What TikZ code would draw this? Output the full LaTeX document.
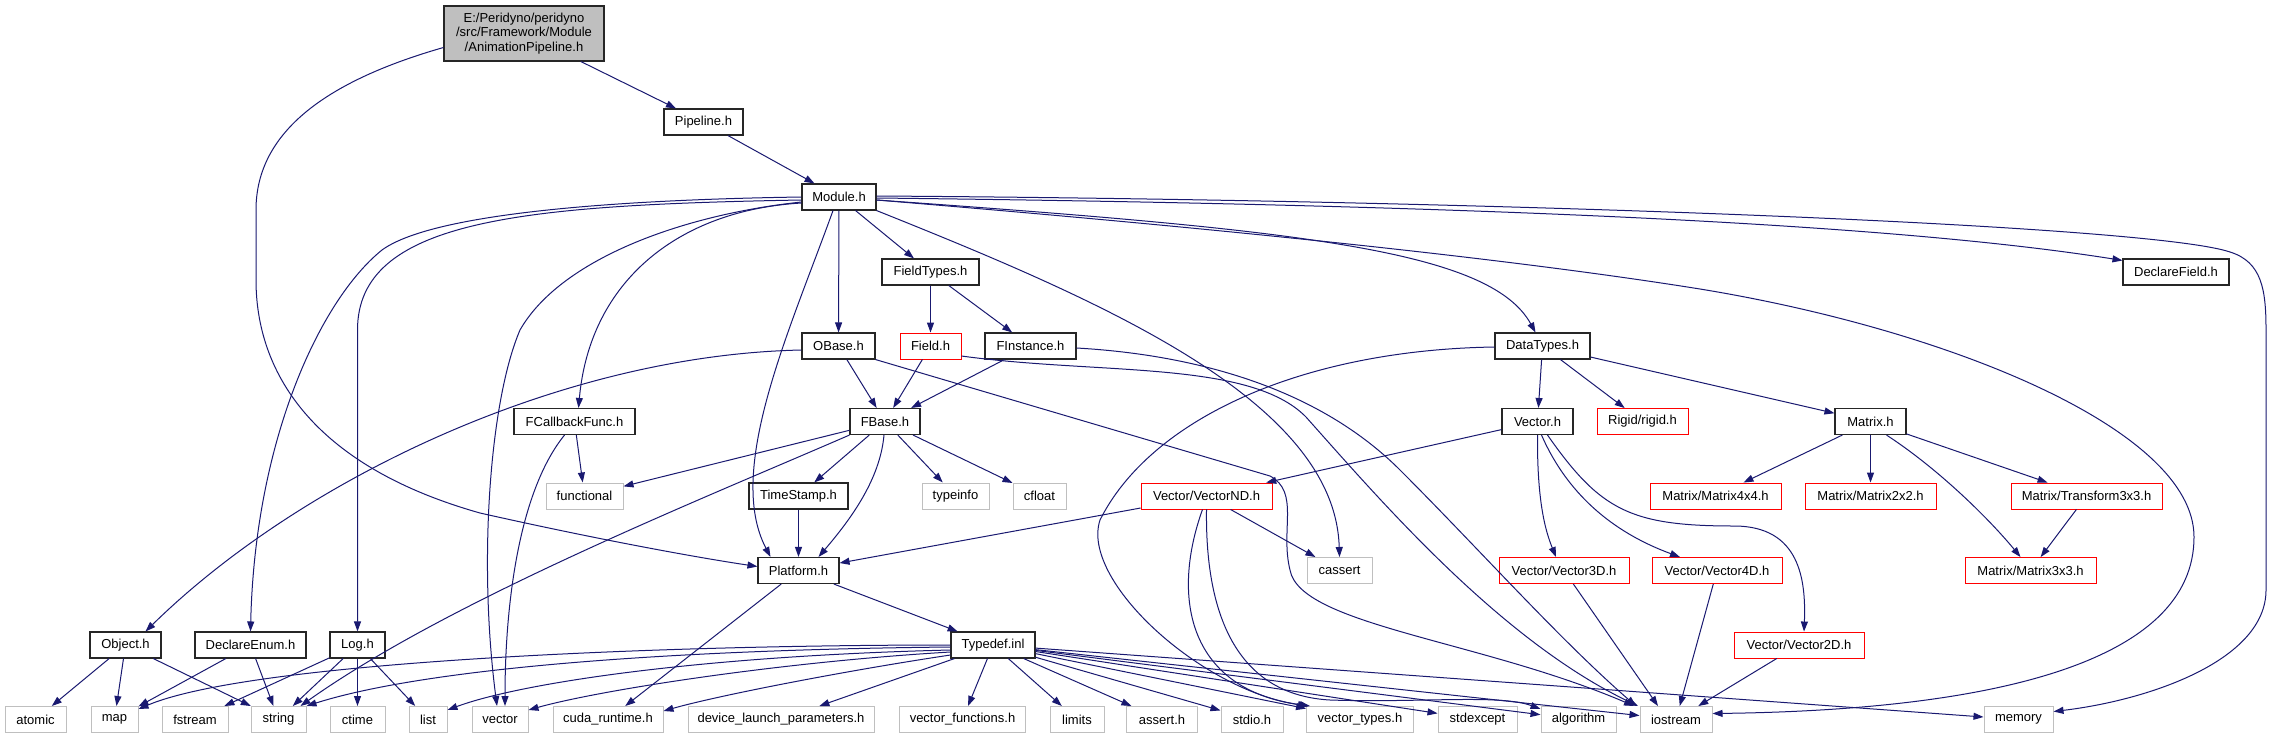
\documentclass[tikz,border=0pt]{standalone}
\usepackage{fontspec}
\setmainfont{Liberation Sans}
\usetikzlibrary{arrows.meta}
\definecolor{edgeblue}{HTML}{191970}
\definecolor{sysgray}{HTML}{BFBFBF}
\begin{document}
\begin{tikzpicture}[x=1pt,y=-1pt,
hdr/.style={draw=black!85, line width=1.1pt, fill=white, minimum height=26pt, inner sep=0pt, font=\fontsize{13}{14.5}\selectfont},
undoc/.style={hdr, draw=red, line width=0.9pt},
sys/.style={hdr, draw=sysgray, line width=1pt},
topfile/.style={hdr, fill=sysgray, minimum height=55pt, align=center},
inc/.style={draw=edgeblue, line width=1pt, -{Triangle[length=10pt,width=7pt]}},]
\useasboundingbox (0,0) rectangle (2274,739);

\node[topfile, minimum width=160pt] (anim) at (524,33.5) {E:/Peridyno/peridyno\\/src/Framework/Module\\/AnimationPipeline.h};
\node[hdr, minimum width=79pt] (pipeline) at (703.5,122) {Pipeline.h};
\node[hdr, minimum width=74pt] (module) at (839,197) {Module.h};
\node[hdr, minimum width=97pt] (fieldtypes) at (930.5,272) {FieldTypes.h};
\node[hdr, minimum width=106pt] (declarefield) at (2176,272) {DeclareField.h};
\node[hdr, minimum width=73pt] (obase) at (838.5,346) {OBase.h};
\node[undoc, minimum width=61pt] (field) at (930.5,346) {Field.h};
\node[hdr, minimum width=91pt] (finstance) at (1030.5,346) {FInstance.h};
\node[hdr, minimum width=95pt] (datatypes) at (1542.5,346) {DataTypes.h};
\node[hdr, minimum width=70pt] (fbase) at (885,421.5) {FBase.h};
\node[hdr, minimum width=121pt] (fcallback) at (574.5,421.5) {FCallbackFunc.h};
\node[hdr, minimum width=71pt] (vectorh) at (1537.5,421.5) {Vector.h};
\node[undoc, minimum width=91pt] (rigid) at (1642.5,421.5) {Rigid/rigid.h};
\node[hdr, minimum width=71pt] (matrixh) at (1870.5,421.5) {Matrix.h};
\node[sys, minimum width=77pt] (functional) at (584.5,496) {functional};
\node[hdr, minimum width=99pt] (timestamp) at (798.5,496) {TimeStamp.h};
\node[sys, minimum width=67pt] (typeinfo) at (955.5,496) {typeinfo};
\node[sys, minimum width=53pt] (cfloat) at (1039.5,496) {cfloat};
\node[undoc, minimum width=131pt] (vectornd) at (1206.5,496) {Vector/VectorND.h};
\node[undoc, minimum width=131pt] (mfour) at (1715.5,496) {Matrix/Matrix4x4.h};
\node[undoc, minimum width=131pt] (mtwo) at (1870.5,496) {Matrix/Matrix2x2.h};
\node[undoc, minimum width=151pt] (transform) at (2086.5,496) {Matrix/Transform3x3.h};
\node[hdr, minimum width=81pt] (platform) at (798.5,570.5) {Platform.h};
\node[sys, minimum width=65pt] (cassert) at (1339.5,570.5) {cassert};
\node[undoc, minimum width=130pt] (vthree) at (1564,570.5) {Vector/Vector3D.h};
\node[undoc, minimum width=130pt] (vfour) at (1717,570.5) {Vector/Vector4D.h};
\node[undoc, minimum width=131pt] (mthree) at (2030.5,570.5) {Matrix/Matrix3x3.h};
\node[hdr, minimum width=71pt] (object) at (125.5,645) {Object.h};
\node[hdr, minimum width=111pt] (declareenum) at (250.5,645) {DeclareEnum.h};
\node[hdr, minimum width=55pt] (logh) at (357.5,645) {Log.h};
\node[hdr, minimum width=84pt] (typedef) at (993,645) {Typedef.inl};
\node[undoc, minimum width=130pt] (vtwo) at (1799,645) {Vector/Vector2D.h};
\node[sys, minimum width=61pt] (atomic) at (35.5,719.5) {atomic};
\node[sys, minimum width=47pt] (map) at (114.5,719.5) {map};
\node[sys, minimum width=66pt] (fstream) at (195,719.5) {fstream};
\node[sys, minimum width=55pt] (string) at (278.5,719.5) {string};
\node[sys, minimum width=55pt] (ctime) at (357.5,719.5) {ctime};
\node[sys, minimum width=38pt] (list) at (428,719.5) {list};
\node[sys, minimum width=56pt] (vector) at (500,719.5) {vector};
\node[sys, minimum width=110pt] (cuda) at (608,719.5) {cuda\_runtime.h};
\node[sys, minimum width=186pt] (devlaunch) at (781,719.5) {device\_launch\_parameters.h};
\node[sys, minimum width=126pt] (vecfunc) at (962.5,719.5) {vector\_functions.h};
\node[sys, minimum width=54pt] (limits) at (1077,719.5) {limits};
\node[sys, minimum width=71pt] (asserth) at (1162,719.5) {assert.h};
\node[sys, minimum width=62pt] (stdioh) at (1252,719.5) {stdio.h};
\node[sys, minimum width=107pt] (vectypes) at (1360,719.5) {vector\_types.h};
\node[sys, minimum width=79pt] (stdexcept) at (1477.5,719.5) {stdexcept};
\node[sys, minimum width=75pt] (algorithm) at (1578.5,719.5) {algorithm};
\node[sys, minimum width=72pt] (iostream) at (1676,719.5) {iostream};
\node[sys, minimum width=69pt] (memory) at (2018.5,719.5) {memory};

\draw[inc] (anim) -- (pipeline);
\draw[inc] ([yshift=-14pt]anim.west) .. controls (330,80) and (256,130) .. (256,210) -- (256,280) .. controls (256,370) and (310,465) .. (480,513) .. controls (600,540) and (700,558) .. ([yshift=4pt]platform.west);
\draw[inc] (pipeline) -- (module);

\draw[inc] (module.west) .. controls (600,200) and (430,215) .. (382,250) .. controls (320,300) and (255,440) .. (declareenum.north);
\draw[inc] ([yshift=-3pt]module.west) .. controls (520,205) and (357.5,220) .. (357.5,330) -- (logh.north);
\draw[inc] ([yshift=-5pt]module.west) .. controls (680,215) and (560,260) .. (520,330) .. controls (490,400) and (478,560) .. ([xshift=-3pt]vector.north);
\draw[inc] ([yshift=-6pt]module.west) .. controls (680,210) and (590,280) .. ([xshift=4pt]fcallback.north);
\draw[inc] ([xshift=-6pt]module.south) .. controls (790,330) and (725,470) .. ([xshift=-28pt]platform.north);
\draw[inc] (module) -- (obase);
\draw[inc] (module) -- (fieldtypes);
\draw[inc] (module.south east) .. controls (1100,300) and (1335,400) .. (cassert.north);
\draw[inc] ([yshift=-3pt]module.east) .. controls (1300,230) and (1490,250) .. ([xshift=-7pt]datatypes.north);
\draw[inc] ([yshift=-3pt]module.east) .. controls (1300,235) and (1550,265) .. (1700,289) .. controls (1950,330) and (2194,430) .. (2194,537) .. controls (2194,660) and (2000,710) .. ([yshift=6pt]iostream.east);
\draw[inc] ([yshift=-1pt]module.east) .. controls (1500,205) and (1900,225) .. ([yshift=-2pt]declarefield.north west);
\draw[inc] ([yshift=1pt]module.east) .. controls (1500,200) and (2150,225) .. (2230,252) .. controls (2262,262) and (2266,290) .. (2266,330) -- (2266,590) .. controls (2266,660) and (2150,700) .. ([yshift=8pt]memory.east);

\draw[inc] (fieldtypes) -- (field);
\draw[inc] (fieldtypes) -- (finstance);
\draw[inc] (obase) -- (fbase);
\draw[inc] ([yshift=-4pt]obase.west) .. controls (560,355) and (300,480) .. ([xshift=20pt]object.north);
\draw[inc] (obase.south east) -- (1270,476) .. controls (1300,492) and (1280,530) .. (1290,570) .. controls (1300,625) and (1480,640) .. ([xshift=-42pt]iostream.north);
\draw[inc] (field) -- (fbase);
\draw[inc] ([yshift=-10pt]field.east) .. controls (1100,375) and (1250,360) .. (1306,417) .. controls (1380,500) and (1500,640) .. ([xshift=-38pt]iostream.north);
\draw[inc] (finstance) -- (fbase);
\draw[inc] ([yshift=-2pt]finstance.east) .. controls (1200,355) and (1320,390) .. (1400,470) .. controls (1480,550) and (1560,640) .. ([xshift=-40pt]iostream.north);

\draw[inc] (datatypes) -- (vectorh);
\draw[inc] (datatypes) -- (rigid);
\draw[inc] (datatypes) -- (matrixh);
\draw[inc] ([yshift=-1pt]datatypes.west) .. controls (1300,350) and (1150,420) .. (1100,520) .. controls (1080,580) and (1200,690) .. ([xshift=-52pt]vectypes.north);

\draw[inc] (fbase.south west) .. controls (700,500) and (450,600) .. ([xshift=22pt]string.north);
\draw[inc] (fbase) -- (functional);
\draw[inc] (fbase) -- (timestamp);
\draw[inc] (fbase) -- (typeinfo);
\draw[inc] (fbase) -- (cfloat);
\draw[inc] ([xshift=-1pt]fbase.south) .. controls (880,480) and (850,520) .. ([xshift=20pt]platform.north);
\draw[inc] (fcallback) -- (functional);
\draw[inc] ([xshift=-10pt]fcallback.south) .. controls (520,490) and (505,600) .. ([xshift=5pt]vector.north);
\draw[inc] (timestamp) -- (platform);

\draw[inc] (vectorh) -- (vectornd);
\draw[inc] (vectorh.south) .. controls (1537,500) and (1545,530) .. ([xshift=-8pt]vthree.north);
\draw[inc] ([xshift=4pt]vectorh.south) .. controls (1570,500) and (1620,535) .. ([xshift=-37pt]vfour.north);
\draw[inc] ([xshift=10pt]vectorh.south) .. controls (1600,510) and (1630,526) .. (1734,526) .. controls (1800,526) and (1806,580) .. ([xshift=5pt]vtwo.north);
\draw[inc] (matrixh) -- (mfour);
\draw[inc] (matrixh) -- (mtwo);
\draw[inc] (matrixh) -- (transform);
\draw[inc] ([xshift=16pt]matrixh.south) .. controls (1940,470) and (1990,520) .. ([xshift=-10pt]mthree.north);
\draw[inc] (transform) -- (mthree);

\draw[inc] (vectornd) -- (platform);
\draw[inc] (vectornd) -- (cassert);
\draw[inc] ([xshift=-4pt]vectornd.south) .. controls (1170,600) and (1190,690) .. ([xshift=-50pt]vectypes.north);
\draw[inc] (vectornd.south) .. controls (1205,620) and (1240,695) .. (1330,700) .. controls (1420,703) and (1500,694) .. ([yshift=-3pt]algorithm.north west);

\draw[inc] (platform) -- (typedef);
\draw[inc] (platform) -- (cuda);
\draw[inc] (object) -- (atomic);
\draw[inc] (object) -- (map);
\draw[inc] (object) -- (string);
\draw[inc] (declareenum) -- (map);
\draw[inc] (declareenum) -- (string);
\draw[inc] (logh) -- (fstream);
\draw[inc] (logh) -- (string);
\draw[inc] (logh) -- (ctime);
\draw[inc] (logh) -- (list);

\draw[inc] (typedef.west) .. controls (650,645) and (250,662) .. ([yshift=-3pt]map.north east);
\draw[inc] ([yshift=-2pt]typedef.west) .. controls (650,650) and (420,670) .. (string.north east);
\draw[inc] ([yshift=-5pt]typedef.west) .. controls (700,656) and (520,683) .. ([yshift=-4pt]list.north east);
\draw[inc] ([yshift=-7pt]typedef.west) .. controls (780,662) and (600,690) .. ([yshift=-4pt]vector.north east);
\draw[inc] ([yshift=-10pt]typedef.west) .. controls (850,670) and (720,695) .. ([yshift=-5pt]cuda.north east);
\draw[inc] (typedef) -- (devlaunch);
\draw[inc] (typedef) -- (vecfunc);
\draw[inc] (typedef) -- (limits);
\draw[inc] (typedef) -- (asserth);
\draw[inc] (typedef) -- (stdioh);
\draw[inc] (typedef) -- (vectypes);
\draw[inc] (typedef) -- (stdexcept);
\draw[inc] (typedef) -- (algorithm);
\draw[inc] (typedef) -- (iostream);
\draw[inc] (typedef) -- (memory);

\draw[inc] (vthree) -- ([xshift=-18pt]iostream.north);
\draw[inc] (vfour) -- (iostream);
\draw[inc] (vtwo) -- (iostream);
\end{tikzpicture}
\end{document}
